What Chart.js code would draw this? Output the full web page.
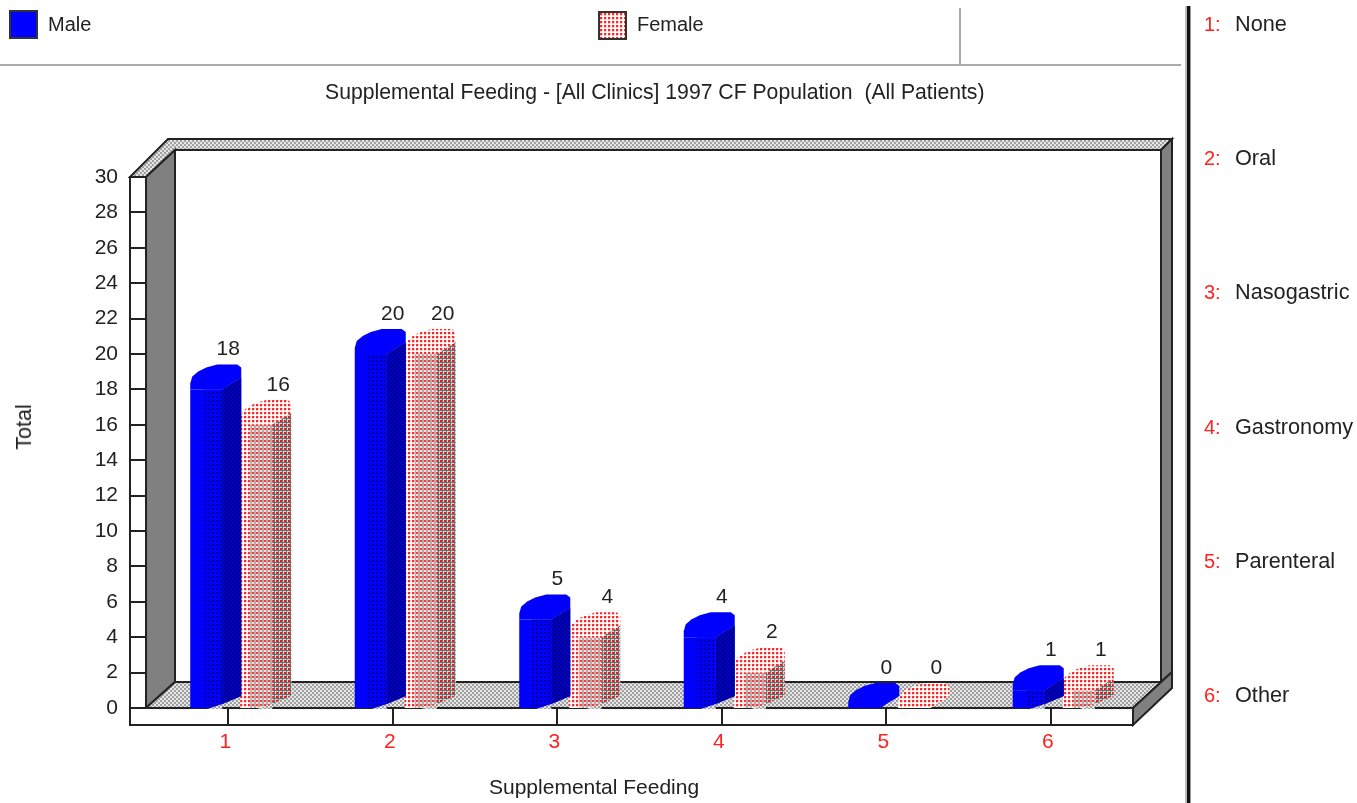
<!DOCTYPE html>
<html>
<head>
<meta charset="utf-8">
<title>Supplemental Feeding</title>
<script src="https://cdn.jsdelivr.net/npm/chart.js@4"></script>
<style>
  html, body { margin: 0; padding: 0; background: #fff; }
  body { width: 1357px; height: 803px; overflow: hidden; position: relative; font-family: "Liberation Sans", Arial, sans-serif; font-size: 20px; color: #222; }
  canvas { position: absolute; left: 0; top: 0; }
  .t { position: absolute; white-space: pre; line-height: 24px; }
  .red { color: #ff2020; }
  .swatch { position: absolute; width: 25px; height: 25px; border: 2px solid #333; }
  .hline { position: absolute; left: 0; top: 64px; width: 1181px; height: 2px; background: #aaa; }
  .vline { position: absolute; left: 959px; top: 8px; width: 2px; height: 57px; background: #aaa; }
  .bar { position: absolute; left: 1185px; top: 6px; width: 6px; height: 797px; background: linear-gradient(to right, #bbb 0 2px, #111 2px 5px, #999 5px); }
</style>
</head>
<body>
<canvas id="myChart" width="1308" height="803"></canvas>
<div class="hline"></div>
<div class="vline"></div>
<div class="bar"></div>
<div class="swatch" style="left:9px;top:10px;background:#0000ff"></div>
<div class="t" style="left:48px;top:12px">Male</div>
<div class="swatch" id="femaleSwatch" style="left:598px;top:11px"></div>
<div class="t" style="left:637px;top:12px">Female</div>
<div class="t" id="chartTitle" style="left:325px;top:80px;font-size:21.2px"></div>
<div class="t" style="left:489px;top:775px;font-size:21px">Supplemental Feeding</div>
<div class="t" style="left:24px;top:427px;font-size:21.5px;transform:translate(-50%,-50%) rotate(-90deg)">Total</div>
<div id="side"></div>

<script>
const categories = ['1', '2', '3', '4', '5', '6'];
const categoryNames = ['None', 'Oral', 'Nasogastric', 'Gastronomy', 'Parenteral', 'Other'];
const male = [18, 20, 5, 4, 0, 1];
const female = [16, 20, 4, 2, 0, 1];
const seriesNames = ['Male', 'Female'];
const titleText = 'Supplemental Feeding - [All Clinics] 1997 CF Population  (All Patients)';

document.getElementById('chartTitle').textContent = titleText;

// key on the right
const sideTop = [12, 146, 280, 415, 549, 683];
const side = document.getElementById('side');
categoryNames.forEach((name, i) => {
  side.innerHTML += '<div class="t red" style="left:1204px;top:' + sideTop[i] + 'px">' + categories[i] + ':</div>'
    + '<div class="t" style="left:1235px;top:' + sideTop[i] + 'px;font-size:21.7px">' + name + '</div>';
});

// dither fills, one tile each
function tile(size, draw) {
  const c = document.createElement('canvas');
  c.width = size;
  c.height = size;
  draw(c.getContext('2d'));
  return c;
}
function makePattern(c) {
  return document.getElementById('myChart').getContext('2d').createPattern(c, 'repeat');
}
const redTile = tile(4, g => {
  g.fillStyle = '#fff'; g.fillRect(0, 0, 4, 4);
  g.fillStyle = '#ffc0c0'; g.fillRect(2, 0, 1, 2); g.fillRect(0, 2, 2, 1);
  g.fillStyle = '#ff2828'; g.fillRect(0, 0, 2, 2);
});
const redFill = makePattern(redTile);
const redGreyFill = makePattern(tile(4, g => {
  g.fillStyle = '#eee2e2'; g.fillRect(0, 0, 4, 4);
  g.fillStyle = '#b4acac'; g.fillRect(2, 0, 2, 4);
  g.fillStyle = '#ff3838'; g.fillRect(0, 0, 2, 2);
}));
const redDarkFill = makePattern(tile(4, g => {
  g.fillStyle = '#dcd4d4'; g.fillRect(0, 0, 4, 4);
  g.fillStyle = '#707070'; g.fillRect(2, 0, 1, 4); g.fillRect(0, 2, 4, 1);
  g.fillStyle = '#e02020'; g.fillRect(0, 0, 2, 2);
}));
const blueDots = makePattern(tile(4, g => {
  g.fillStyle = '#0000ff'; g.fillRect(0, 0, 4, 4);
  g.fillStyle = '#000098'; g.fillRect(0, 0, 2, 2);
}));
const blueDense = makePattern(tile(4, g => {
  g.fillStyle = '#0000c8'; g.fillRect(0, 0, 4, 4);
  g.fillStyle = '#000090'; g.fillRect(0, 0, 2, 2); g.fillRect(2, 2, 2, 2);
}));
const floorFill = makePattern(tile(4, g => {
  g.fillStyle = '#e6e6e6'; g.fillRect(0, 0, 4, 4);
  g.fillStyle = '#a0a0a0'; g.fillRect(0, 0, 2, 2); g.fillRect(2, 2, 2, 2);
}));
document.getElementById('femaleSwatch').style.backgroundImage = 'url(' + redTile.toDataURL() + ')';

function poly(ctx, pts, fill, stroke) {
  ctx.beginPath();
  pts.forEach((p, i) => i ? ctx.lineTo(p[0], p[1]) : ctx.moveTo(p[0], p[1]));
  ctx.closePath();
  if (fill) { ctx.fillStyle = fill; ctx.fill(); }
  if (stroke) { ctx.strokeStyle = stroke; ctx.lineWidth = 2; ctx.stroke(); }
}

// the box behind the bars
const box3d = {
  id: 'box3d',
  beforeDatasetsDraw(chart) {
    const ctx = chart.ctx;
    const a = chart.chartArea;
    const y = chart.scales.y;
    const x = chart.scales.x;
    const l = a.left - 3, r = a.right - 3, t = a.top, b = a.bottom;
    const ink = '#222';
    ctx.save();
    poly(ctx, [[l + 29, t - 27], [r + 28, t - 27], [r + 28, b - 26], [l + 29, b - 26]], '#fff', ink);
    poly(ctx, [[l - 16, t], [l + 22, t - 38], [r + 39, t - 38], [r + 28, t - 27], [l + 29, t - 27], [l, t]], floorFill, ink);
    poly(ctx, [[l, t], [l + 29, t - 27], [l + 29, b - 26], [l, b]], '#808080', ink);
    poly(ctx, [[r + 28, t - 27], [r + 39, t - 38], [r + 39, b - 36], [r + 28, b - 26]], '#808080', ink);
    poly(ctx, [[l, b], [l + 29, b - 26], [r + 28, b - 26], [r, b]], floorFill, ink);
    poly(ctx, [[r, b], [r + 39, b - 36], [r + 39, b - 20], [r, b + 17]], '#808080', ink);
    poly(ctx, [[l - 16, b], [r, b], [r, b + 17], [l - 16, b + 17]], '#fff', ink);
    poly(ctx, [[l - 16, t], [l, t], [l, b], [l - 16, b]], '#fff', ink);
    ctx.strokeStyle = ink;
    ctx.lineWidth = 2;
    y.ticks.forEach((tick, i) => {
      const py = Math.round(y.getPixelForTick(i));
      ctx.beginPath(); ctx.moveTo(l - 16, py); ctx.lineTo(l, py); ctx.stroke();
    });
    categories.forEach((c, i) => {
      const px = Math.round(x.getPixelForTick(i)) - 3;
      ctx.beginPath(); ctx.moveTo(px, b); ctx.lineTo(px, b + 17); ctx.stroke();
    });
    ctx.restore();
  }
};

// side, top and value label of each bar
const bar3d = {
  id: 'bar3d',
  afterDatasetDraw(chart, args) {
    const ctx = chart.ctx;
    const isMale = args.index === 0;
    const data = chart.data.datasets[args.index].data;
    args.meta.data.forEach((el, i) => {
      const x0 = el.x - el.width / 2;
      const v = el.y;
      const base = el.base;
      const band = isMale ? 13 : 10;
      const sideFace = [[x0 + 32, v], [x0 + 51, v - 12], [x0 + 51, base - 12], [x0 + 32, base - 4]];
      const cap = [[x0, v], [x0, v - 6], [x0 + 2, v - 13], [x0 + 8, v - 18], [x0 + 16, v - 22], [x0 + 27, v - 25],
        [x0 + 47, v - 25], [x0 + 51, v - 22], [x0 + 51, v - 12], [x0 + 32, v], [x0 + band, v]];
      ctx.save();
      if (data[i] > 0) {
        poly(ctx, [[x0 + band, v], [x0 + 32, v], [x0 + 32, base - 4], [x0 + 17, base], [x0 + band, base]], isMale ? blueDots : redGreyFill);
        poly(ctx, sideFace, isMale ? '#0000ff' : '#fff');
        // floor shows under the cut corner of the front
        poly(ctx, [[x0 + 17, base + 1], [x0 + 32, base - 4], [x0 + 32, base + 1]], floorFill);
      }
      // rounded cap
      if (!isMale) poly(ctx, cap, '#fff');
      poly(ctx, cap, isMale ? '#0000ff' : redFill);
      if (data[i] > 0) {
        poly(ctx, sideFace, isMale ? blueDense : redDarkFill);
      }
      ctx.fillStyle = '#222';
      ctx.font = '21px "Liberation Sans", Arial, sans-serif';
      ctx.textAlign = 'center';
      ctx.textBaseline = 'middle';
      ctx.fillText(String(data[i]), x0 + 38, v - 40);
      ctx.restore();
    });
  }
};

const font = { family: '"Liberation Sans", Arial, sans-serif', size: 21 };

new Chart(document.getElementById('myChart').getContext('2d'), {
  type: 'bar',
  data: {
    labels: categories,
    datasets: [
      { label: seriesNames[0], data: male, backgroundColor: '#0000ff', borderWidth: 0 },
      { label: seriesNames[1], data: female, backgroundColor: redFill, borderWidth: 0 }
    ]
  },
  options: {
    responsive: false,
    animation: false,
    categoryPercentage: 0.608,
    barPercentage: 0.64,
    layout: { padding: { left: 0, right: 172, top: 177, bottom: 0 } },
    plugins: {
      legend: { display: false },
      tooltip: { enabled: false }
    },
    scales: {
      x: {
        grid: { display: false, drawTicks: false },
        border: { display: false },
        afterFit: s => { s.height = 95; },
        ticks: { color: '#ff2020', font: font, padding: 22, labelOffset: -6, maxRotation: 0, autoSkip: false }
      },
      y: {
        min: 0,
        max: 30,
        grid: { display: false, drawTicks: false },
        border: { display: false },
        afterFit: s => { s.width = 149; },
        ticks: { color: '#222', font: font, stepSize: 2, padding: 31 }
      }
    }
  },
  plugins: [box3d, bar3d]
});
</script>
</body>
</html>
